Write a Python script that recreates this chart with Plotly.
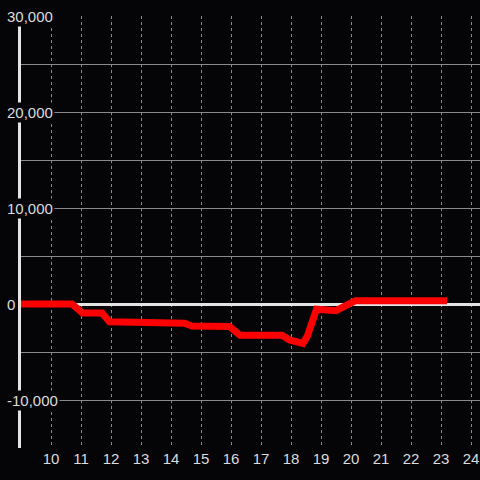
import plotly.graph_objects as go

# data
hours = [9.0, 10.7, 11.05, 11.7, 11.95, 13.0, 14.45, 14.7, 15.95, 16.3, 17.7, 17.95, 18.2, 18.4, 18.55, 18.85, 19.5, 20.15, 23.2]
values = [0, 0, -950, -950, -1850, -1900, -2000, -2300, -2350, -3250, -3250, -3750, -3850, -4100, -3300, -550, -700, 350, 350]

x_ticks = list(range(10, 25))
y_grid = list(range(-15000, 30001, 5000))
y_label_vals = [30000, 20000, 10000, 0, -10000]
y_label_text = ["30,000", "20,000", "10,000", "0", "-10,000"]

BG = "#050508"
TXT = "#dcdcdc"
FONT = "Liberation Sans, Arial, sans-serif"

fig = go.Figure()
fig.add_trace(go.Scatter(
    x=hours, y=values, mode="lines",
    line=dict(color="#ff0000", width=7),
    hoverinfo="skip", showlegend=False,
))

for v, t in zip(y_label_vals, y_label_text):
    fig.add_annotation(
        x=0, xref="paper", y=v, yref="y", text=t,
        showarrow=False, xanchor="left", yanchor="middle", xshift=-16,
        font=dict(family=FONT, size=15, color=TXT),
        bgcolor=BG, borderpad=1,
    )

fig.update_layout(
    width=480, height=480,
    margin=dict(l=21, r=0, t=16, b=32),
    paper_bgcolor=BG, plot_bgcolor=BG,
    showlegend=False,
    font=dict(family=FONT, size=15, color=TXT),
)
fig.update_xaxes(
    range=[9, 24.3], tickvals=x_ticks, ticktext=[str(t) for t in x_ticks],
    showgrid=True, gridcolor="#8a8a8a", gridwidth=1, griddash="dot",
    zeroline=False, showline=False, ticks="", fixedrange=True,
    tickfont=dict(family=FONT, size=15, color=TXT),
)
fig.update_yaxes(
    range=[-15000, 30000], tickvals=y_grid, showticklabels=False,
    showgrid=True, gridcolor="#8a8a8a", gridwidth=1,
    zeroline=True, zerolinecolor="#e4e4e4", zerolinewidth=3,
    showline=True, linecolor="#e4e4e4", linewidth=3, ticks="", fixedrange=True,
)

fig.write_html(
    "out.html",
    config={"displayModeBar": False},
    post_script="document.body.style.margin='0px'; document.body.style.overflow='hidden';",
)
